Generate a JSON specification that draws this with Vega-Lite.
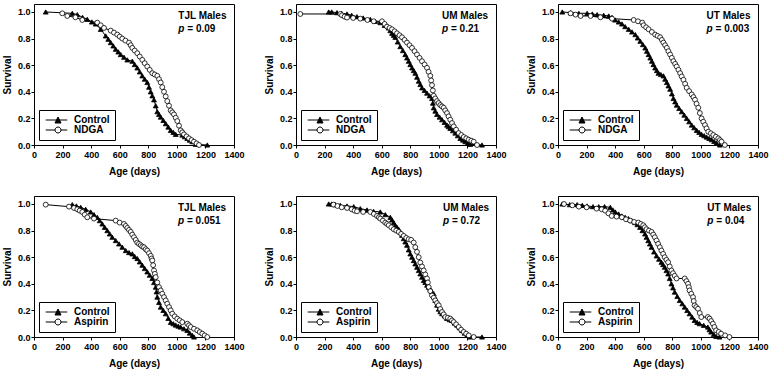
{
"$schema": "https://vega.github.io/schema/vega-lite/v6.json",
"background": "white",
"padding": {"left": 1, "top": 3, "right": 5, "bottom": 2},
"bounds": "flush",
"columns": 3,
"spacing": {"row": 51, "column": 62},
"datasets": {
"tjl_ndga": [
{"age":82,"surv":1.0,"group":"Control"},{"age":268,"surv":0.99,"group":"Control"},{"age":303,"surv":0.98,"group":"Control"},{"age":340,"surv":0.96,"group":"Control"},{"age":373,"surv":0.945,"group":"Control"},{"age":405,"surv":0.925,"group":"Control"},{"age":432,"surv":0.91,"group":"Control"},{"age":467,"surv":0.87,"group":"Control"},{"age":502,"surv":0.82,"group":"Control"},{"age":520,"surv":0.795,"group":"Control"},{"age":537,"surv":0.77,"group":"Control"},{"age":555,"surv":0.745,"group":"Control"},{"age":572,"surv":0.72,"group":"Control"},{"age":590,"surv":0.7,"group":"Control"},{"age":607,"surv":0.68,"group":"Control"},{"age":630,"surv":0.66,"group":"Control"},{"age":653,"surv":0.64,"group":"Control"},{"age":688,"surv":0.63,"group":"Control"},{"age":705,"surv":0.605,"group":"Control"},{"age":723,"surv":0.58,"group":"Control"},{"age":740,"surv":0.55,"group":"Control"},{"age":758,"surv":0.52,"group":"Control"},{"age":775,"surv":0.495,"group":"Control"},{"age":793,"surv":0.47,"group":"Control"},{"age":805,"surv":0.435,"group":"Control"},{"age":817,"surv":0.4,"group":"Control"},{"age":828,"surv":0.37,"group":"Control"},{"age":840,"surv":0.34,"group":"Control"},{"age":852,"surv":0.295,"group":"Control"},{"age":863,"surv":0.25,"group":"Control"},{"age":875,"surv":0.23,"group":"Control"},{"age":887,"surv":0.21,"group":"Control"},{"age":905,"surv":0.185,"group":"Control"},{"age":922,"surv":0.16,"group":"Control"},{"age":940,"surv":0.135,"group":"Control"},{"age":957,"surv":0.11,"group":"Control"},{"age":975,"surv":0.095,"group":"Control"},{"age":992,"surv":0.08,"group":"Control"},{"age":1038,"surv":0.075,"group":"Control"},{"age":1055,"surv":0.062,"group":"Control"},{"age":1073,"surv":0.05,"group":"Control"},{"age":1090,"surv":0.037,"group":"Control"},{"age":1108,"surv":0.025,"group":"Control"},{"age":1132,"surv":0.005,"group":"Control"},{"age":1213,"surv":0.0,"group":"Control"},
{"age":198,"surv":0.99,"group":"NDGA"},{"age":233,"surv":0.97,"group":"NDGA"},{"age":290,"surv":0.96,"group":"NDGA"},{"age":338,"surv":0.94,"group":"NDGA"},{"age":443,"surv":0.92,"group":"NDGA"},{"age":467,"surv":0.9,"group":"NDGA"},{"age":490,"surv":0.88,"group":"NDGA"},{"age":537,"surv":0.86,"group":"NDGA"},{"age":560,"surv":0.845,"group":"NDGA"},{"age":583,"surv":0.83,"group":"NDGA"},{"age":600,"surv":0.815,"group":"NDGA"},{"age":618,"surv":0.8,"group":"NDGA"},{"age":640,"surv":0.785,"group":"NDGA"},{"age":665,"surv":0.77,"group":"NDGA"},{"age":677,"surv":0.75,"group":"NDGA"},{"age":688,"surv":0.73,"group":"NDGA"},{"age":705,"surv":0.71,"group":"NDGA"},{"age":723,"surv":0.69,"group":"NDGA"},{"age":740,"surv":0.665,"group":"NDGA"},{"age":758,"surv":0.64,"group":"NDGA"},{"age":775,"surv":0.615,"group":"NDGA"},{"age":793,"surv":0.59,"group":"NDGA"},{"age":810,"surv":0.565,"group":"NDGA"},{"age":828,"surv":0.54,"group":"NDGA"},{"age":845,"surv":0.53,"group":"NDGA"},{"age":863,"surv":0.52,"group":"NDGA"},{"age":875,"surv":0.495,"group":"NDGA"},{"age":887,"surv":0.47,"group":"NDGA"},{"age":898,"surv":0.435,"group":"NDGA"},{"age":910,"surv":0.4,"group":"NDGA"},{"age":922,"surv":0.365,"group":"NDGA"},{"age":933,"surv":0.33,"group":"NDGA"},{"age":945,"surv":0.295,"group":"NDGA"},{"age":957,"surv":0.26,"group":"NDGA"},{"age":968,"surv":0.245,"group":"NDGA"},{"age":980,"surv":0.23,"group":"NDGA"},{"age":992,"surv":0.205,"group":"NDGA"},{"age":1003,"surv":0.18,"group":"NDGA"},{"age":1015,"surv":0.145,"group":"NDGA"},{"age":1027,"surv":0.11,"group":"NDGA"},{"age":1038,"surv":0.095,"group":"NDGA"},{"age":1050,"surv":0.08,"group":"NDGA"},{"age":1068,"surv":0.065,"group":"NDGA"},{"age":1085,"surv":0.05,"group":"NDGA"},{"age":1103,"surv":0.037,"group":"NDGA"},{"age":1120,"surv":0.025,"group":"NDGA"},{"age":1138,"surv":0.012,"group":"NDGA"},{"age":1155,"surv":0.0,"group":"NDGA"}
],
"um_ndga": [
{"age":229,"surv":1.0,"group":"Control"},{"age":250,"surv":1.0,"group":"Control"},{"age":287,"surv":0.995,"group":"Control"},{"age":320,"surv":0.99,"group":"Control"},{"age":357,"surv":0.985,"group":"Control"},{"age":390,"surv":0.975,"group":"Control"},{"age":427,"surv":0.965,"group":"Control"},{"age":470,"surv":0.955,"group":"Control"},{"age":520,"surv":0.945,"group":"Control"},{"age":555,"surv":0.93,"group":"Control"},{"age":590,"surv":0.92,"group":"Control"},{"age":620,"surv":0.9,"group":"Control"},{"age":649,"surv":0.88,"group":"Control"},{"age":660,"surv":0.86,"group":"Control"},{"age":672,"surv":0.84,"group":"Control"},{"age":684,"surv":0.825,"group":"Control"},{"age":695,"surv":0.81,"group":"Control"},{"age":712,"surv":0.775,"group":"Control"},{"age":730,"surv":0.74,"group":"Control"},{"age":748,"surv":0.71,"group":"Control"},{"age":765,"surv":0.68,"group":"Control"},{"age":777,"surv":0.655,"group":"Control"},{"age":789,"surv":0.63,"group":"Control"},{"age":800,"surv":0.605,"group":"Control"},{"age":812,"surv":0.58,"group":"Control"},{"age":824,"surv":0.56,"group":"Control"},{"age":835,"surv":0.54,"group":"Control"},{"age":847,"surv":0.51,"group":"Control"},{"age":859,"surv":0.48,"group":"Control"},{"age":870,"surv":0.455,"group":"Control"},{"age":882,"surv":0.43,"group":"Control"},{"age":900,"surv":0.41,"group":"Control"},{"age":917,"surv":0.39,"group":"Control"},{"age":935,"surv":0.37,"group":"Control"},{"age":952,"surv":0.35,"group":"Control"},{"age":958,"surv":0.315,"group":"Control"},{"age":964,"surv":0.28,"group":"Control"},{"age":975,"surv":0.255,"group":"Control"},{"age":987,"surv":0.23,"group":"Control"},{"age":1005,"surv":0.21,"group":"Control"},{"age":1022,"surv":0.19,"group":"Control"},{"age":1040,"surv":0.17,"group":"Control"},{"age":1057,"surv":0.15,"group":"Control"},{"age":1068,"surv":0.138,"group":"Control"},{"age":1080,"surv":0.125,"group":"Control"},{"age":1098,"surv":0.108,"group":"Control"},{"age":1115,"surv":0.09,"group":"Control"},{"age":1132,"surv":0.07,"group":"Control"},{"age":1150,"surv":0.05,"group":"Control"},{"age":1168,"surv":0.037,"group":"Control"},{"age":1185,"surv":0.025,"group":"Control"},{"age":1203,"surv":0.015,"group":"Control"},{"age":1220,"surv":0.005,"group":"Control"},{"age":1302,"surv":0.0,"group":"Control"},
{"age":30,"surv":0.985,"group":"NDGA"},{"age":310,"surv":0.985,"group":"NDGA"},{"age":322,"surv":0.975,"group":"NDGA"},{"age":340,"surv":0.965,"group":"NDGA"},{"age":357,"surv":0.958,"group":"NDGA"},{"age":400,"surv":0.955,"group":"NDGA"},{"age":450,"surv":0.95,"group":"NDGA"},{"age":500,"surv":0.94,"group":"NDGA"},{"age":544,"surv":0.93,"group":"NDGA"},{"age":602,"surv":0.93,"group":"NDGA"},{"age":620,"surv":0.91,"group":"NDGA"},{"age":637,"surv":0.89,"group":"NDGA"},{"age":655,"surv":0.88,"group":"NDGA"},{"age":672,"surv":0.87,"group":"NDGA"},{"age":690,"surv":0.855,"group":"NDGA"},{"age":707,"surv":0.84,"group":"NDGA"},{"age":725,"surv":0.825,"group":"NDGA"},{"age":742,"surv":0.81,"group":"NDGA"},{"age":760,"surv":0.79,"group":"NDGA"},{"age":777,"surv":0.77,"group":"NDGA"},{"age":795,"surv":0.75,"group":"NDGA"},{"age":812,"surv":0.73,"group":"NDGA"},{"age":830,"surv":0.705,"group":"NDGA"},{"age":847,"surv":0.68,"group":"NDGA"},{"age":865,"surv":0.655,"group":"NDGA"},{"age":882,"surv":0.63,"group":"NDGA"},{"age":900,"surv":0.605,"group":"NDGA"},{"age":917,"surv":0.58,"group":"NDGA"},{"age":928,"surv":0.55,"group":"NDGA"},{"age":940,"surv":0.52,"group":"NDGA"},{"age":946,"surv":0.485,"group":"NDGA"},{"age":952,"surv":0.45,"group":"NDGA"},{"age":958,"surv":0.41,"group":"NDGA"},{"age":964,"surv":0.37,"group":"NDGA"},{"age":975,"surv":0.35,"group":"NDGA"},{"age":987,"surv":0.33,"group":"NDGA"},{"age":998,"surv":0.315,"group":"NDGA"},{"age":1010,"surv":0.3,"group":"NDGA"},{"age":1022,"surv":0.29,"group":"NDGA"},{"age":1034,"surv":0.28,"group":"NDGA"},{"age":1045,"surv":0.26,"group":"NDGA"},{"age":1057,"surv":0.24,"group":"NDGA"},{"age":1068,"surv":0.215,"group":"NDGA"},{"age":1080,"surv":0.19,"group":"NDGA"},{"age":1092,"surv":0.165,"group":"NDGA"},{"age":1104,"surv":0.14,"group":"NDGA"},{"age":1121,"surv":0.115,"group":"NDGA"},{"age":1139,"surv":0.09,"group":"NDGA"},{"age":1157,"surv":0.075,"group":"NDGA"},{"age":1174,"surv":0.06,"group":"NDGA"},{"age":1192,"surv":0.05,"group":"NDGA"},{"age":1209,"surv":0.04,"group":"NDGA"},{"age":1227,"surv":0.032,"group":"NDGA"},{"age":1244,"surv":0.025,"group":"NDGA"},{"age":1267,"surv":0.0,"group":"NDGA"}
],
"ut_ndga": [
{"age":30,"surv":1.0,"group":"Control"},{"age":88,"surv":0.995,"group":"Control"},{"age":146,"surv":0.99,"group":"Control"},{"age":204,"surv":0.99,"group":"Control"},{"age":240,"surv":0.985,"group":"Control"},{"age":274,"surv":0.98,"group":"Control"},{"age":320,"surv":0.975,"group":"Control"},{"age":355,"surv":0.97,"group":"Control"},{"age":378,"surv":0.96,"group":"Control"},{"age":400,"surv":0.94,"group":"Control"},{"age":425,"surv":0.925,"group":"Control"},{"age":448,"surv":0.91,"group":"Control"},{"age":470,"surv":0.89,"group":"Control"},{"age":495,"surv":0.87,"group":"Control"},{"age":518,"surv":0.85,"group":"Control"},{"age":541,"surv":0.83,"group":"Control"},{"age":558,"surv":0.805,"group":"Control"},{"age":576,"surv":0.78,"group":"Control"},{"age":594,"surv":0.755,"group":"Control"},{"age":611,"surv":0.73,"group":"Control"},{"age":622,"surv":0.705,"group":"Control"},{"age":634,"surv":0.68,"group":"Control"},{"age":646,"surv":0.655,"group":"Control"},{"age":657,"surv":0.63,"group":"Control"},{"age":668,"surv":0.605,"group":"Control"},{"age":680,"surv":0.58,"group":"Control"},{"age":692,"surv":0.56,"group":"Control"},{"age":703,"surv":0.54,"group":"Control"},{"age":720,"surv":0.53,"group":"Control"},{"age":738,"surv":0.52,"group":"Control"},{"age":750,"surv":0.495,"group":"Control"},{"age":762,"surv":0.47,"group":"Control"},{"age":773,"surv":0.445,"group":"Control"},{"age":785,"surv":0.42,"group":"Control"},{"age":797,"surv":0.385,"group":"Control"},{"age":808,"surv":0.35,"group":"Control"},{"age":820,"surv":0.325,"group":"Control"},{"age":831,"surv":0.3,"group":"Control"},{"age":848,"surv":0.275,"group":"Control"},{"age":866,"surv":0.25,"group":"Control"},{"age":884,"surv":0.225,"group":"Control"},{"age":901,"surv":0.2,"group":"Control"},{"age":918,"surv":0.175,"group":"Control"},{"age":936,"surv":0.15,"group":"Control"},{"age":953,"surv":0.13,"group":"Control"},{"age":971,"surv":0.11,"group":"Control"},{"age":988,"surv":0.095,"group":"Control"},{"age":1005,"surv":0.08,"group":"Control"},{"age":1023,"surv":0.07,"group":"Control"},{"age":1040,"surv":0.06,"group":"Control"},{"age":1058,"surv":0.05,"group":"Control"},{"age":1075,"surv":0.04,"group":"Control"},{"age":1093,"surv":0.027,"group":"Control"},{"age":1110,"surv":0.015,"group":"Control"},{"age":1133,"surv":0.0,"group":"Control"},
{"age":88,"surv":0.99,"group":"NDGA"},{"age":123,"surv":0.98,"group":"NDGA"},{"age":158,"surv":0.97,"group":"NDGA"},{"age":228,"surv":0.97,"group":"NDGA"},{"age":297,"surv":0.96,"group":"NDGA"},{"age":378,"surv":0.95,"group":"NDGA"},{"age":530,"surv":0.94,"group":"NDGA"},{"age":560,"surv":0.93,"group":"NDGA"},{"age":590,"surv":0.92,"group":"NDGA"},{"age":599,"surv":0.9,"group":"NDGA"},{"age":617,"surv":0.885,"group":"NDGA"},{"age":634,"surv":0.87,"group":"NDGA"},{"age":657,"surv":0.85,"group":"NDGA"},{"age":680,"surv":0.83,"group":"NDGA"},{"age":697,"surv":0.82,"group":"NDGA"},{"age":715,"surv":0.81,"group":"NDGA"},{"age":727,"surv":0.79,"group":"NDGA"},{"age":738,"surv":0.77,"group":"NDGA"},{"age":750,"surv":0.75,"group":"NDGA"},{"age":762,"surv":0.73,"group":"NDGA"},{"age":773,"surv":0.705,"group":"NDGA"},{"age":785,"surv":0.68,"group":"NDGA"},{"age":797,"surv":0.655,"group":"NDGA"},{"age":808,"surv":0.63,"group":"NDGA"},{"age":820,"surv":0.61,"group":"NDGA"},{"age":831,"surv":0.59,"group":"NDGA"},{"age":843,"surv":0.565,"group":"NDGA"},{"age":855,"surv":0.54,"group":"NDGA"},{"age":866,"surv":0.515,"group":"NDGA"},{"age":878,"surv":0.49,"group":"NDGA"},{"age":890,"surv":0.46,"group":"NDGA"},{"age":901,"surv":0.43,"group":"NDGA"},{"age":918,"surv":0.405,"group":"NDGA"},{"age":936,"surv":0.38,"group":"NDGA"},{"age":948,"surv":0.36,"group":"NDGA"},{"age":959,"surv":0.34,"group":"NDGA"},{"age":970,"surv":0.31,"group":"NDGA"},{"age":982,"surv":0.28,"group":"NDGA"},{"age":993,"surv":0.24,"group":"NDGA"},{"age":1005,"surv":0.2,"group":"NDGA"},{"age":1017,"surv":0.175,"group":"NDGA"},{"age":1029,"surv":0.15,"group":"NDGA"},{"age":1040,"surv":0.125,"group":"NDGA"},{"age":1052,"surv":0.1,"group":"NDGA"},{"age":1070,"surv":0.088,"group":"NDGA"},{"age":1087,"surv":0.075,"group":"NDGA"},{"age":1105,"surv":0.062,"group":"NDGA"},{"age":1122,"surv":0.05,"group":"NDGA"},{"age":1134,"surv":0.037,"group":"NDGA"},{"age":1145,"surv":0.025,"group":"NDGA"},{"age":1168,"surv":0.0,"group":"NDGA"}
],
"tjl_asp": [
{"age":268,"surv":0.995,"group":"Control"},{"age":297,"surv":0.985,"group":"Control"},{"age":327,"surv":0.975,"group":"Control"},{"age":362,"surv":0.96,"group":"Control"},{"age":397,"surv":0.94,"group":"Control"},{"age":420,"surv":0.92,"group":"Control"},{"age":443,"surv":0.9,"group":"Control"},{"age":460,"surv":0.875,"group":"Control"},{"age":478,"surv":0.85,"group":"Control"},{"age":495,"surv":0.825,"group":"Control"},{"age":513,"surv":0.8,"group":"Control"},{"age":530,"surv":0.775,"group":"Control"},{"age":548,"surv":0.75,"group":"Control"},{"age":572,"surv":0.725,"group":"Control"},{"age":595,"surv":0.7,"group":"Control"},{"age":618,"surv":0.675,"group":"Control"},{"age":642,"surv":0.65,"group":"Control"},{"age":665,"surv":0.635,"group":"Control"},{"age":688,"surv":0.625,"group":"Control"},{"age":705,"surv":0.605,"group":"Control"},{"age":723,"surv":0.59,"group":"Control"},{"age":740,"surv":0.565,"group":"Control"},{"age":758,"surv":0.54,"group":"Control"},{"age":775,"surv":0.515,"group":"Control"},{"age":793,"surv":0.49,"group":"Control"},{"age":810,"surv":0.465,"group":"Control"},{"age":828,"surv":0.44,"group":"Control"},{"age":840,"surv":0.41,"group":"Control"},{"age":852,"surv":0.375,"group":"Control"},{"age":858,"surv":0.34,"group":"Control"},{"age":863,"surv":0.3,"group":"Control"},{"age":875,"surv":0.26,"group":"Control"},{"age":887,"surv":0.225,"group":"Control"},{"age":905,"surv":0.2,"group":"Control"},{"age":922,"surv":0.175,"group":"Control"},{"age":940,"surv":0.14,"group":"Control"},{"age":957,"surv":0.11,"group":"Control"},{"age":975,"surv":0.1,"group":"Control"},{"age":992,"surv":0.09,"group":"Control"},{"age":1010,"surv":0.082,"group":"Control"},{"age":1027,"surv":0.075,"group":"Control"},{"age":1050,"surv":0.062,"group":"Control"},{"age":1073,"surv":0.05,"group":"Control"},{"age":1090,"surv":0.03,"group":"Control"},{"age":1108,"surv":0.012,"group":"Control"},{"age":1120,"surv":0.0,"group":"Control"},
{"age":82,"surv":0.995,"group":"Aspirin"},{"age":245,"surv":0.98,"group":"Aspirin"},{"age":280,"surv":0.97,"group":"Aspirin"},{"age":303,"surv":0.96,"group":"Aspirin"},{"age":320,"surv":0.95,"group":"Aspirin"},{"age":338,"surv":0.94,"group":"Aspirin"},{"age":355,"surv":0.92,"group":"Aspirin"},{"age":373,"surv":0.9,"group":"Aspirin"},{"age":420,"surv":0.89,"group":"Aspirin"},{"age":572,"surv":0.875,"group":"Aspirin"},{"age":600,"surv":0.86,"group":"Aspirin"},{"age":630,"surv":0.85,"group":"Aspirin"},{"age":642,"surv":0.835,"group":"Aspirin"},{"age":653,"surv":0.82,"group":"Aspirin"},{"age":665,"surv":0.805,"group":"Aspirin"},{"age":677,"surv":0.79,"group":"Aspirin"},{"age":688,"surv":0.77,"group":"Aspirin"},{"age":700,"surv":0.75,"group":"Aspirin"},{"age":712,"surv":0.73,"group":"Aspirin"},{"age":723,"surv":0.71,"group":"Aspirin"},{"age":735,"surv":0.7,"group":"Aspirin"},{"age":747,"surv":0.69,"group":"Aspirin"},{"age":758,"surv":0.68,"group":"Aspirin"},{"age":770,"surv":0.675,"group":"Aspirin"},{"age":782,"surv":0.66,"group":"Aspirin"},{"age":793,"surv":0.65,"group":"Aspirin"},{"age":805,"surv":0.63,"group":"Aspirin"},{"age":817,"surv":0.61,"group":"Aspirin"},{"age":823,"surv":0.59,"group":"Aspirin"},{"age":828,"surv":0.575,"group":"Aspirin"},{"age":834,"surv":0.54,"group":"Aspirin"},{"age":840,"surv":0.5,"group":"Aspirin"},{"age":846,"surv":0.475,"group":"Aspirin"},{"age":852,"surv":0.45,"group":"Aspirin"},{"age":863,"surv":0.41,"group":"Aspirin"},{"age":875,"surv":0.375,"group":"Aspirin"},{"age":887,"surv":0.35,"group":"Aspirin"},{"age":898,"surv":0.325,"group":"Aspirin"},{"age":910,"surv":0.3,"group":"Aspirin"},{"age":922,"surv":0.275,"group":"Aspirin"},{"age":933,"surv":0.25,"group":"Aspirin"},{"age":945,"surv":0.225,"group":"Aspirin"},{"age":957,"surv":0.2,"group":"Aspirin"},{"age":968,"surv":0.175,"group":"Aspirin"},{"age":985,"surv":0.155,"group":"Aspirin"},{"age":1003,"surv":0.138,"group":"Aspirin"},{"age":1020,"surv":0.125,"group":"Aspirin"},{"age":1038,"surv":0.112,"group":"Aspirin"},{"age":1073,"surv":0.1,"group":"Aspirin"},{"age":1085,"surv":0.088,"group":"Aspirin"},{"age":1097,"surv":0.075,"group":"Aspirin"},{"age":1120,"surv":0.062,"group":"Aspirin"},{"age":1143,"surv":0.05,"group":"Aspirin"},{"age":1160,"surv":0.037,"group":"Aspirin"},{"age":1178,"surv":0.025,"group":"Aspirin"},{"age":1195,"surv":0.012,"group":"Aspirin"},{"age":1213,"surv":0.0,"group":"Aspirin"}
],
"um_asp": [
{"age":229,"surv":1.0,"group":"Control"},{"age":250,"surv":1.0,"group":"Control"},{"age":275,"surv":0.995,"group":"Control"},{"age":310,"surv":0.99,"group":"Control"},{"age":357,"surv":0.985,"group":"Control"},{"age":404,"surv":0.98,"group":"Control"},{"age":450,"surv":0.965,"group":"Control"},{"age":497,"surv":0.955,"group":"Control"},{"age":543,"surv":0.945,"group":"Control"},{"age":590,"surv":0.94,"group":"Control"},{"age":625,"surv":0.92,"group":"Control"},{"age":660,"surv":0.9,"group":"Control"},{"age":672,"surv":0.88,"group":"Control"},{"age":684,"surv":0.86,"group":"Control"},{"age":695,"surv":0.84,"group":"Control"},{"age":707,"surv":0.825,"group":"Control"},{"age":719,"surv":0.81,"group":"Control"},{"age":730,"surv":0.79,"group":"Control"},{"age":742,"surv":0.765,"group":"Control"},{"age":754,"surv":0.74,"group":"Control"},{"age":765,"surv":0.715,"group":"Control"},{"age":777,"surv":0.69,"group":"Control"},{"age":789,"surv":0.655,"group":"Control"},{"age":800,"surv":0.625,"group":"Control"},{"age":812,"surv":0.6,"group":"Control"},{"age":824,"surv":0.575,"group":"Control"},{"age":835,"surv":0.55,"group":"Control"},{"age":847,"surv":0.525,"group":"Control"},{"age":859,"surv":0.5,"group":"Control"},{"age":870,"surv":0.475,"group":"Control"},{"age":882,"surv":0.45,"group":"Control"},{"age":894,"surv":0.425,"group":"Control"},{"age":905,"surv":0.41,"group":"Control"},{"age":917,"surv":0.39,"group":"Control"},{"age":928,"surv":0.375,"group":"Control"},{"age":940,"surv":0.36,"group":"Control"},{"age":952,"surv":0.34,"group":"Control"},{"age":964,"surv":0.325,"group":"Control"},{"age":970,"surv":0.3,"group":"Control"},{"age":975,"surv":0.275,"group":"Control"},{"age":987,"surv":0.24,"group":"Control"},{"age":999,"surv":0.21,"group":"Control"},{"age":1010,"surv":0.19,"group":"Control"},{"age":1022,"surv":0.175,"group":"Control"},{"age":1040,"surv":0.16,"group":"Control"},{"age":1057,"surv":0.14,"group":"Control"},{"age":1075,"surv":0.13,"group":"Control"},{"age":1092,"surv":0.125,"group":"Control"},{"age":1110,"surv":0.105,"group":"Control"},{"age":1127,"surv":0.09,"group":"Control"},{"age":1145,"surv":0.07,"group":"Control"},{"age":1162,"surv":0.05,"group":"Control"},{"age":1180,"surv":0.03,"group":"Control"},{"age":1197,"surv":0.012,"group":"Control"},{"age":1220,"surv":0.0,"group":"Control"},{"age":1302,"surv":0.0,"group":"Control"},
{"age":262,"surv":0.995,"group":"Aspirin"},{"age":290,"surv":0.985,"group":"Aspirin"},{"age":320,"surv":0.975,"group":"Aspirin"},{"age":357,"surv":0.97,"group":"Aspirin"},{"age":390,"surv":0.96,"group":"Aspirin"},{"age":410,"surv":0.95,"group":"Aspirin"},{"age":427,"surv":0.945,"group":"Aspirin"},{"age":470,"surv":0.94,"group":"Aspirin"},{"age":520,"surv":0.94,"group":"Aspirin"},{"age":545,"surv":0.925,"group":"Aspirin"},{"age":567,"surv":0.91,"group":"Aspirin"},{"age":580,"surv":0.9,"group":"Aspirin"},{"age":590,"surv":0.89,"group":"Aspirin"},{"age":608,"surv":0.875,"group":"Aspirin"},{"age":625,"surv":0.86,"group":"Aspirin"},{"age":637,"surv":0.85,"group":"Aspirin"},{"age":649,"surv":0.84,"group":"Aspirin"},{"age":667,"surv":0.825,"group":"Aspirin"},{"age":684,"surv":0.81,"group":"Aspirin"},{"age":702,"surv":0.8,"group":"Aspirin"},{"age":719,"surv":0.79,"group":"Aspirin"},{"age":736,"surv":0.775,"group":"Aspirin"},{"age":754,"surv":0.76,"group":"Aspirin"},{"age":772,"surv":0.745,"group":"Aspirin"},{"age":789,"surv":0.735,"group":"Aspirin"},{"age":806,"surv":0.73,"group":"Aspirin"},{"age":824,"surv":0.71,"group":"Aspirin"},{"age":835,"surv":0.675,"group":"Aspirin"},{"age":847,"surv":0.64,"group":"Aspirin"},{"age":859,"surv":0.6,"group":"Aspirin"},{"age":870,"surv":0.56,"group":"Aspirin"},{"age":882,"surv":0.53,"group":"Aspirin"},{"age":894,"surv":0.5,"group":"Aspirin"},{"age":905,"surv":0.47,"group":"Aspirin"},{"age":917,"surv":0.44,"group":"Aspirin"},{"age":923,"surv":0.41,"group":"Aspirin"},{"age":929,"surv":0.375,"group":"Aspirin"},{"age":940,"surv":0.345,"group":"Aspirin"},{"age":952,"surv":0.312,"group":"Aspirin"},{"age":964,"surv":0.295,"group":"Aspirin"},{"age":975,"surv":0.275,"group":"Aspirin"},{"age":987,"surv":0.255,"group":"Aspirin"},{"age":999,"surv":0.238,"group":"Aspirin"},{"age":1010,"surv":0.21,"group":"Aspirin"},{"age":1022,"surv":0.188,"group":"Aspirin"},{"age":1034,"surv":0.17,"group":"Aspirin"},{"age":1045,"surv":0.15,"group":"Aspirin"},{"age":1063,"surv":0.145,"group":"Aspirin"},{"age":1080,"surv":0.138,"group":"Aspirin"},{"age":1092,"surv":0.125,"group":"Aspirin"},{"age":1104,"surv":0.112,"group":"Aspirin"},{"age":1121,"surv":0.095,"group":"Aspirin"},{"age":1139,"surv":0.075,"group":"Aspirin"},{"age":1156,"surv":0.055,"group":"Aspirin"},{"age":1174,"surv":0.038,"group":"Aspirin"},{"age":1191,"surv":0.025,"group":"Aspirin"},{"age":1209,"surv":0.012,"group":"Aspirin"},{"age":1244,"surv":0.0,"group":"Aspirin"}
],
"ut_asp": [
{"age":30,"surv":1.0,"group":"Control"},{"age":82,"surv":0.995,"group":"Control"},{"age":134,"surv":0.995,"group":"Control"},{"age":170,"surv":0.99,"group":"Control"},{"age":204,"surv":0.985,"group":"Control"},{"age":245,"surv":0.98,"group":"Control"},{"age":285,"surv":0.98,"group":"Control"},{"age":326,"surv":0.98,"group":"Control"},{"age":366,"surv":0.975,"group":"Control"},{"age":384,"surv":0.955,"group":"Control"},{"age":401,"surv":0.94,"group":"Control"},{"age":424,"surv":0.925,"group":"Control"},{"age":447,"surv":0.91,"group":"Control"},{"age":470,"surv":0.9,"group":"Control"},{"age":493,"surv":0.89,"group":"Control"},{"age":516,"surv":0.875,"group":"Control"},{"age":539,"surv":0.86,"group":"Control"},{"age":556,"surv":0.845,"group":"Control"},{"age":574,"surv":0.825,"group":"Control"},{"age":591,"surv":0.8,"group":"Control"},{"age":609,"surv":0.775,"group":"Control"},{"age":620,"surv":0.75,"group":"Control"},{"age":632,"surv":0.725,"group":"Control"},{"age":643,"surv":0.7,"group":"Control"},{"age":655,"surv":0.675,"group":"Control"},{"age":672,"surv":0.64,"group":"Control"},{"age":690,"surv":0.61,"group":"Control"},{"age":707,"surv":0.585,"group":"Control"},{"age":724,"surv":0.562,"group":"Control"},{"age":735,"surv":0.545,"group":"Control"},{"age":747,"surv":0.525,"group":"Control"},{"age":759,"surv":0.5,"group":"Control"},{"age":771,"surv":0.475,"group":"Control"},{"age":782,"surv":0.44,"group":"Control"},{"age":794,"surv":0.4,"group":"Control"},{"age":805,"surv":0.37,"group":"Control"},{"age":817,"surv":0.338,"group":"Control"},{"age":835,"surv":0.305,"group":"Control"},{"age":852,"surv":0.275,"group":"Control"},{"age":870,"surv":0.25,"group":"Control"},{"age":887,"surv":0.225,"group":"Control"},{"age":904,"surv":0.2,"group":"Control"},{"age":921,"surv":0.175,"group":"Control"},{"age":939,"surv":0.15,"group":"Control"},{"age":956,"surv":0.125,"group":"Control"},{"age":974,"surv":0.11,"group":"Control"},{"age":991,"surv":0.1,"group":"Control"},{"age":1020,"surv":0.088,"group":"Control"},{"age":1049,"surv":0.075,"group":"Control"},{"age":1060,"surv":0.055,"group":"Control"},{"age":1072,"surv":0.038,"group":"Control"},{"age":1090,"surv":0.02,"group":"Control"},{"age":1107,"surv":0.005,"group":"Control"},{"age":1130,"surv":0.0,"group":"Control"},
{"age":42,"surv":1.0,"group":"Aspirin"},{"age":100,"surv":0.99,"group":"Aspirin"},{"age":146,"surv":0.98,"group":"Aspirin"},{"age":200,"surv":0.975,"group":"Aspirin"},{"age":270,"surv":0.965,"group":"Aspirin"},{"age":306,"surv":0.96,"group":"Aspirin"},{"age":330,"surv":0.95,"group":"Aspirin"},{"age":353,"surv":0.93,"group":"Aspirin"},{"age":376,"surv":0.91,"group":"Aspirin"},{"age":410,"surv":0.905,"group":"Aspirin"},{"age":447,"surv":0.9,"group":"Aspirin"},{"age":476,"surv":0.885,"group":"Aspirin"},{"age":505,"surv":0.875,"group":"Aspirin"},{"age":533,"surv":0.865,"group":"Aspirin"},{"age":562,"surv":0.86,"group":"Aspirin"},{"age":580,"surv":0.85,"group":"Aspirin"},{"age":597,"surv":0.84,"group":"Aspirin"},{"age":608,"surv":0.825,"group":"Aspirin"},{"age":620,"surv":0.81,"group":"Aspirin"},{"age":637,"surv":0.8,"group":"Aspirin"},{"age":655,"surv":0.79,"group":"Aspirin"},{"age":667,"surv":0.77,"group":"Aspirin"},{"age":678,"surv":0.75,"group":"Aspirin"},{"age":690,"surv":0.725,"group":"Aspirin"},{"age":701,"surv":0.7,"group":"Aspirin"},{"age":713,"surv":0.675,"group":"Aspirin"},{"age":724,"surv":0.65,"group":"Aspirin"},{"age":736,"surv":0.625,"group":"Aspirin"},{"age":747,"surv":0.6,"group":"Aspirin"},{"age":759,"surv":0.58,"group":"Aspirin"},{"age":771,"surv":0.562,"group":"Aspirin"},{"age":782,"surv":0.53,"group":"Aspirin"},{"age":794,"surv":0.5,"group":"Aspirin"},{"age":805,"surv":0.48,"group":"Aspirin"},{"age":817,"surv":0.46,"group":"Aspirin"},{"age":830,"surv":0.44,"group":"Aspirin"},{"age":887,"surv":0.44,"group":"Aspirin"},{"age":899,"surv":0.42,"group":"Aspirin"},{"age":910,"surv":0.4,"group":"Aspirin"},{"age":916,"surv":0.375,"group":"Aspirin"},{"age":921,"surv":0.35,"group":"Aspirin"},{"age":933,"surv":0.325,"group":"Aspirin"},{"age":945,"surv":0.3,"group":"Aspirin"},{"age":950,"surv":0.27,"group":"Aspirin"},{"age":956,"surv":0.238,"group":"Aspirin"},{"age":968,"surv":0.225,"group":"Aspirin"},{"age":980,"surv":0.212,"group":"Aspirin"},{"age":992,"surv":0.18,"group":"Aspirin"},{"age":1003,"surv":0.15,"group":"Aspirin"},{"age":1049,"surv":0.15,"group":"Aspirin"},{"age":1061,"surv":0.138,"group":"Aspirin"},{"age":1072,"surv":0.12,"group":"Aspirin"},{"age":1084,"surv":0.1,"group":"Aspirin"},{"age":1095,"surv":0.075,"group":"Aspirin"},{"age":1107,"surv":0.05,"group":"Aspirin"},{"age":1125,"surv":0.038,"group":"Aspirin"},{"age":1142,"surv":0.025,"group":"Aspirin"},{"age":1170,"surv":0.012,"group":"Aspirin"},{"age":1200,"surv":0.0,"group":"Aspirin"}
]
},
"concat": [
 {"width": 200, "height": 141, "data": {"name": "tjl_ndga"}, "layer": [
  {"mark": {"type": "line", "color": "black", "strokeWidth": 1}, "encoding": {"x": {"field": "age", "type": "quantitative", "scale": {"domain": [0, 1400], "nice": false}, "axis": {"values": [0,200,400,600,800,1000,1200,1400], "tickCount": 20, "format": "d", "labelOverlap": false, "title": "Age (days)"}}, "y": {"field": "surv", "type": "quantitative", "scale": {"domain": [0, 1.06], "nice": false}, "axis": {"values": [0,0.2,0.4,0.6,0.8,1.0], "tickCount": 20, "format": ".1f", "labelOverlap": false, "title": "Survival"}}, "detail": {"field": "group"}}},
  {"mark": {"type": "point", "filled": true, "opacity": 1, "size": 24, "stroke": "black", "strokeWidth": 0.8}, "encoding": {"x": {"field": "age", "type": "quantitative"}, "y": {"field": "surv", "type": "quantitative"},
    "shape": {"condition": {"test": "datum.group === 'Control'", "value": "triangle-up"}, "value": "circle"},
    "fill": {"field": "group", "type": "nominal", "scale": {"domain": ["Control", "NDGA"], "range": ["black", "white"]}, "legend": {"title": null, "encoding": {"symbols": {"shape": {"value": {"expr": "datum.value === 'Control' ? 'M-1.1,0H6.1M2,1L3,-1L4,1Z' : 'M-1.1,0H2M4,0H6.1M2,0C2,-0.55,2.45,-1,3,-1C3.55,-1,4,-0.55,4,0C4,0.55,3.55,1,3,1C2.45,1,2,0.55,2,0Z'"}}, "stroke": {"value": "black"}, "strokeWidth": {"value": 1}, "opacity": {"value": 1}}}}}}},
  {"data": {"values": [{"name": "TJL Males", "pval": "= 0.09"}]}, "layer": [
    {"mark": {"type": "text", "align": "left", "baseline": "middle", "fontSize": 10, "fontWeight": "bold"}, "encoding": {"x": {"datum": 1010}, "y": {"datum": 0.97}, "text": {"field": "name"}}},
    {"mark": {"type": "text", "align": "left", "baseline": "middle", "fontSize": 10, "fontWeight": "bold", "fontStyle": "italic"}, "encoding": {"x": {"datum": 1010}, "y": {"datum": 0.875}, "text": {"value": "p"}}},
    {"mark": {"type": "text", "align": "left", "baseline": "middle", "fontSize": 10, "fontWeight": "bold", "dx": 9}, "encoding": {"x": {"datum": 1010}, "y": {"datum": 0.875}, "text": {"field": "pval"}}}
  ]}
 ]},
 {"width": 200, "height": 141, "data": {"name": "um_ndga"}, "layer": [
  {"mark": {"type": "line", "color": "black", "strokeWidth": 1}, "encoding": {"x": {"field": "age", "type": "quantitative", "scale": {"domain": [0, 1400], "nice": false}, "axis": {"values": [0,200,400,600,800,1000,1200,1400], "tickCount": 20, "format": "d", "labelOverlap": false, "title": "Age (days)"}}, "y": {"field": "surv", "type": "quantitative", "scale": {"domain": [0, 1.06], "nice": false}, "axis": {"values": [0,0.2,0.4,0.6,0.8,1.0], "tickCount": 20, "format": ".1f", "labelOverlap": false, "title": "Survival"}}, "detail": {"field": "group"}}},
  {"mark": {"type": "point", "filled": true, "opacity": 1, "size": 24, "stroke": "black", "strokeWidth": 0.8}, "encoding": {"x": {"field": "age", "type": "quantitative"}, "y": {"field": "surv", "type": "quantitative"},
    "shape": {"condition": {"test": "datum.group === 'Control'", "value": "triangle-up"}, "value": "circle"},
    "fill": {"field": "group", "type": "nominal", "scale": {"domain": ["Control", "NDGA"], "range": ["black", "white"]}, "legend": {"title": null, "encoding": {"symbols": {"shape": {"value": {"expr": "datum.value === 'Control' ? 'M-1.1,0H6.1M2,1L3,-1L4,1Z' : 'M-1.1,0H2M4,0H6.1M2,0C2,-0.55,2.45,-1,3,-1C3.55,-1,4,-0.55,4,0C4,0.55,3.55,1,3,1C2.45,1,2,0.55,2,0Z'"}}, "stroke": {"value": "black"}, "strokeWidth": {"value": 1}, "opacity": {"value": 1}}}}}}},
  {"data": {"values": [{"name": "UM Males", "pval": "= 0.21"}]}, "layer": [
    {"mark": {"type": "text", "align": "left", "baseline": "middle", "fontSize": 10, "fontWeight": "bold"}, "encoding": {"x": {"datum": 1022}, "y": {"datum": 0.97}, "text": {"field": "name"}}},
    {"mark": {"type": "text", "align": "left", "baseline": "middle", "fontSize": 10, "fontWeight": "bold", "fontStyle": "italic"}, "encoding": {"x": {"datum": 1022}, "y": {"datum": 0.875}, "text": {"value": "p"}}},
    {"mark": {"type": "text", "align": "left", "baseline": "middle", "fontSize": 10, "fontWeight": "bold", "dx": 9}, "encoding": {"x": {"datum": 1022}, "y": {"datum": 0.875}, "text": {"field": "pval"}}}
  ]}
 ]},
 {"width": 200, "height": 141, "data": {"name": "ut_ndga"}, "layer": [
  {"mark": {"type": "line", "color": "black", "strokeWidth": 1}, "encoding": {"x": {"field": "age", "type": "quantitative", "scale": {"domain": [0, 1400], "nice": false}, "axis": {"values": [0,200,400,600,800,1000,1200,1400], "tickCount": 20, "format": "d", "labelOverlap": false, "title": "Age (days)"}}, "y": {"field": "surv", "type": "quantitative", "scale": {"domain": [0, 1.06], "nice": false}, "axis": {"values": [0,0.2,0.4,0.6,0.8,1.0], "tickCount": 20, "format": ".1f", "labelOverlap": false, "title": "Survival"}}, "detail": {"field": "group"}}},
  {"mark": {"type": "point", "filled": true, "opacity": 1, "size": 24, "stroke": "black", "strokeWidth": 0.8}, "encoding": {"x": {"field": "age", "type": "quantitative"}, "y": {"field": "surv", "type": "quantitative"},
    "shape": {"condition": {"test": "datum.group === 'Control'", "value": "triangle-up"}, "value": "circle"},
    "fill": {"field": "group", "type": "nominal", "scale": {"domain": ["Control", "NDGA"], "range": ["black", "white"]}, "legend": {"title": null, "encoding": {"symbols": {"shape": {"value": {"expr": "datum.value === 'Control' ? 'M-1.1,0H6.1M2,1L3,-1L4,1Z' : 'M-1.1,0H2M4,0H6.1M2,0C2,-0.55,2.45,-1,3,-1C3.55,-1,4,-0.55,4,0C4,0.55,3.55,1,3,1C2.45,1,2,0.55,2,0Z'"}}, "stroke": {"value": "black"}, "strokeWidth": {"value": 1}, "opacity": {"value": 1}}}}}}},
  {"data": {"values": [{"name": "UT Males", "pval": "= 0.003"}]}, "layer": [
    {"mark": {"type": "text", "align": "left", "baseline": "middle", "fontSize": 10, "fontWeight": "bold"}, "encoding": {"x": {"datum": 1040}, "y": {"datum": 0.97}, "text": {"field": "name"}}},
    {"mark": {"type": "text", "align": "left", "baseline": "middle", "fontSize": 10, "fontWeight": "bold", "fontStyle": "italic"}, "encoding": {"x": {"datum": 1040}, "y": {"datum": 0.875}, "text": {"value": "p"}}},
    {"mark": {"type": "text", "align": "left", "baseline": "middle", "fontSize": 10, "fontWeight": "bold", "dx": 9}, "encoding": {"x": {"datum": 1040}, "y": {"datum": 0.875}, "text": {"field": "pval"}}}
  ]}
 ]},
 {"width": 200, "height": 141, "data": {"name": "tjl_asp"}, "layer": [
  {"mark": {"type": "line", "color": "black", "strokeWidth": 1}, "encoding": {"x": {"field": "age", "type": "quantitative", "scale": {"domain": [0, 1400], "nice": false}, "axis": {"values": [0,200,400,600,800,1000,1200,1400], "tickCount": 20, "format": "d", "labelOverlap": false, "title": "Age (days)"}}, "y": {"field": "surv", "type": "quantitative", "scale": {"domain": [0, 1.06], "nice": false}, "axis": {"values": [0,0.2,0.4,0.6,0.8,1.0], "tickCount": 20, "format": ".1f", "labelOverlap": false, "title": "Survival"}}, "detail": {"field": "group"}}},
  {"mark": {"type": "point", "filled": true, "opacity": 1, "size": 24, "stroke": "black", "strokeWidth": 0.8}, "encoding": {"x": {"field": "age", "type": "quantitative"}, "y": {"field": "surv", "type": "quantitative"},
    "shape": {"condition": {"test": "datum.group === 'Control'", "value": "triangle-up"}, "value": "circle"},
    "fill": {"field": "group", "type": "nominal", "scale": {"domain": ["Control", "Aspirin"], "range": ["black", "white"]}, "legend": {"title": null, "encoding": {"symbols": {"shape": {"value": {"expr": "datum.value === 'Control' ? 'M-1.1,0H6.1M2,1L3,-1L4,1Z' : 'M-1.1,0H2M4,0H6.1M2,0C2,-0.55,2.45,-1,3,-1C3.55,-1,4,-0.55,4,0C4,0.55,3.55,1,3,1C2.45,1,2,0.55,2,0Z'"}}, "stroke": {"value": "black"}, "strokeWidth": {"value": 1}, "opacity": {"value": 1}}}}}}},
  {"data": {"values": [{"name": "TJL Males", "pval": "= 0.051"}]}, "layer": [
    {"mark": {"type": "text", "align": "left", "baseline": "middle", "fontSize": 10, "fontWeight": "bold"}, "encoding": {"x": {"datum": 1008}, "y": {"datum": 0.97}, "text": {"field": "name"}}},
    {"mark": {"type": "text", "align": "left", "baseline": "middle", "fontSize": 10, "fontWeight": "bold", "fontStyle": "italic"}, "encoding": {"x": {"datum": 1008}, "y": {"datum": 0.875}, "text": {"value": "p"}}},
    {"mark": {"type": "text", "align": "left", "baseline": "middle", "fontSize": 10, "fontWeight": "bold", "dx": 9}, "encoding": {"x": {"datum": 1008}, "y": {"datum": 0.875}, "text": {"field": "pval"}}}
  ]}
 ]},
 {"width": 200, "height": 141, "data": {"name": "um_asp"}, "layer": [
  {"mark": {"type": "line", "color": "black", "strokeWidth": 1}, "encoding": {"x": {"field": "age", "type": "quantitative", "scale": {"domain": [0, 1400], "nice": false}, "axis": {"values": [0,200,400,600,800,1000,1200,1400], "tickCount": 20, "format": "d", "labelOverlap": false, "title": "Age (days)"}}, "y": {"field": "surv", "type": "quantitative", "scale": {"domain": [0, 1.06], "nice": false}, "axis": {"values": [0,0.2,0.4,0.6,0.8,1.0], "tickCount": 20, "format": ".1f", "labelOverlap": false, "title": "Survival"}}, "detail": {"field": "group"}}},
  {"mark": {"type": "point", "filled": true, "opacity": 1, "size": 24, "stroke": "black", "strokeWidth": 0.8}, "encoding": {"x": {"field": "age", "type": "quantitative"}, "y": {"field": "surv", "type": "quantitative"},
    "shape": {"condition": {"test": "datum.group === 'Control'", "value": "triangle-up"}, "value": "circle"},
    "fill": {"field": "group", "type": "nominal", "scale": {"domain": ["Control", "Aspirin"], "range": ["black", "white"]}, "legend": {"title": null, "encoding": {"symbols": {"shape": {"value": {"expr": "datum.value === 'Control' ? 'M-1.1,0H6.1M2,1L3,-1L4,1Z' : 'M-1.1,0H2M4,0H6.1M2,0C2,-0.55,2.45,-1,3,-1C3.55,-1,4,-0.55,4,0C4,0.55,3.55,1,3,1C2.45,1,2,0.55,2,0Z'"}}, "stroke": {"value": "black"}, "strokeWidth": {"value": 1}, "opacity": {"value": 1}}}}}}},
  {"data": {"values": [{"name": "UM Males", "pval": "= 0.72"}]}, "layer": [
    {"mark": {"type": "text", "align": "left", "baseline": "middle", "fontSize": 10, "fontWeight": "bold"}, "encoding": {"x": {"datum": 1029}, "y": {"datum": 0.97}, "text": {"field": "name"}}},
    {"mark": {"type": "text", "align": "left", "baseline": "middle", "fontSize": 10, "fontWeight": "bold", "fontStyle": "italic"}, "encoding": {"x": {"datum": 1029}, "y": {"datum": 0.875}, "text": {"value": "p"}}},
    {"mark": {"type": "text", "align": "left", "baseline": "middle", "fontSize": 10, "fontWeight": "bold", "dx": 9}, "encoding": {"x": {"datum": 1029}, "y": {"datum": 0.875}, "text": {"field": "pval"}}}
  ]}
 ]},
 {"width": 200, "height": 141, "data": {"name": "ut_asp"}, "layer": [
  {"mark": {"type": "line", "color": "black", "strokeWidth": 1}, "encoding": {"x": {"field": "age", "type": "quantitative", "scale": {"domain": [0, 1400], "nice": false}, "axis": {"values": [0,200,400,600,800,1000,1200,1400], "tickCount": 20, "format": "d", "labelOverlap": false, "title": "Age (days)"}}, "y": {"field": "surv", "type": "quantitative", "scale": {"domain": [0, 1.06], "nice": false}, "axis": {"values": [0,0.2,0.4,0.6,0.8,1.0], "tickCount": 20, "format": ".1f", "labelOverlap": false, "title": "Survival"}}, "detail": {"field": "group"}}},
  {"mark": {"type": "point", "filled": true, "opacity": 1, "size": 24, "stroke": "black", "strokeWidth": 0.8}, "encoding": {"x": {"field": "age", "type": "quantitative"}, "y": {"field": "surv", "type": "quantitative"},
    "shape": {"condition": {"test": "datum.group === 'Control'", "value": "triangle-up"}, "value": "circle"},
    "fill": {"field": "group", "type": "nominal", "scale": {"domain": ["Control", "Aspirin"], "range": ["black", "white"]}, "legend": {"title": null, "encoding": {"symbols": {"shape": {"value": {"expr": "datum.value === 'Control' ? 'M-1.1,0H6.1M2,1L3,-1L4,1Z' : 'M-1.1,0H2M4,0H6.1M2,0C2,-0.55,2.45,-1,3,-1C3.55,-1,4,-0.55,4,0C4,0.55,3.55,1,3,1C2.45,1,2,0.55,2,0Z'"}}, "stroke": {"value": "black"}, "strokeWidth": {"value": 1}, "opacity": {"value": 1}}}}}}},
  {"data": {"values": [{"name": "UT Males", "pval": "= 0.04"}]}, "layer": [
    {"mark": {"type": "text", "align": "left", "baseline": "middle", "fontSize": 10, "fontWeight": "bold"}, "encoding": {"x": {"datum": 1045}, "y": {"datum": 0.97}, "text": {"field": "name"}}},
    {"mark": {"type": "text", "align": "left", "baseline": "middle", "fontSize": 10, "fontWeight": "bold", "fontStyle": "italic"}, "encoding": {"x": {"datum": 1045}, "y": {"datum": 0.875}, "text": {"value": "p"}}},
    {"mark": {"type": "text", "align": "left", "baseline": "middle", "fontSize": 10, "fontWeight": "bold", "dx": 9}, "encoding": {"x": {"datum": 1045}, "y": {"datum": 0.875}, "text": {"field": "pval"}}}
  ]}
 ]}
],
"resolve": {"scale": {"fill": "independent"}, "legend": {"fill": "independent"}},
"config": {
 "font": "Liberation Sans",
 "view": {"stroke": "black", "strokeWidth": 1},
 "text": {"font": "Liberation Sans", "color": "black"},
 "axis": {"grid": false, "domainColor": "black", "tickColor": "black", "tickSize": 3, "labelPadding": 1, "labelFont": "Liberation Sans", "labelFontSize": 9, "labelFontWeight": "bold", "labelColor": "black", "titleFont": "Liberation Sans", "titleFontSize": 10, "titleFontWeight": "bold", "titleColor": "black", "labelFlush": false, "labelOverlap": false},
 "axisY": {"titlePadding": 5},
 "axisX": {"labelPadding": 2, "titlePadding": 7},
 "legend": {"orient": "bottom-left", "offset": 5, "strokeColor": "black", "fillColor": "white", "padding": 5, "rowPadding": 0, "symbolSize": 36, "labelOffset": 20, "labelFont": "Liberation Sans", "labelFontSize": 10, "labelFontWeight": "bold", "labelColor": "black", "symbolStrokeColor": "black", "symbolStrokeWidth": 1}
}
}
